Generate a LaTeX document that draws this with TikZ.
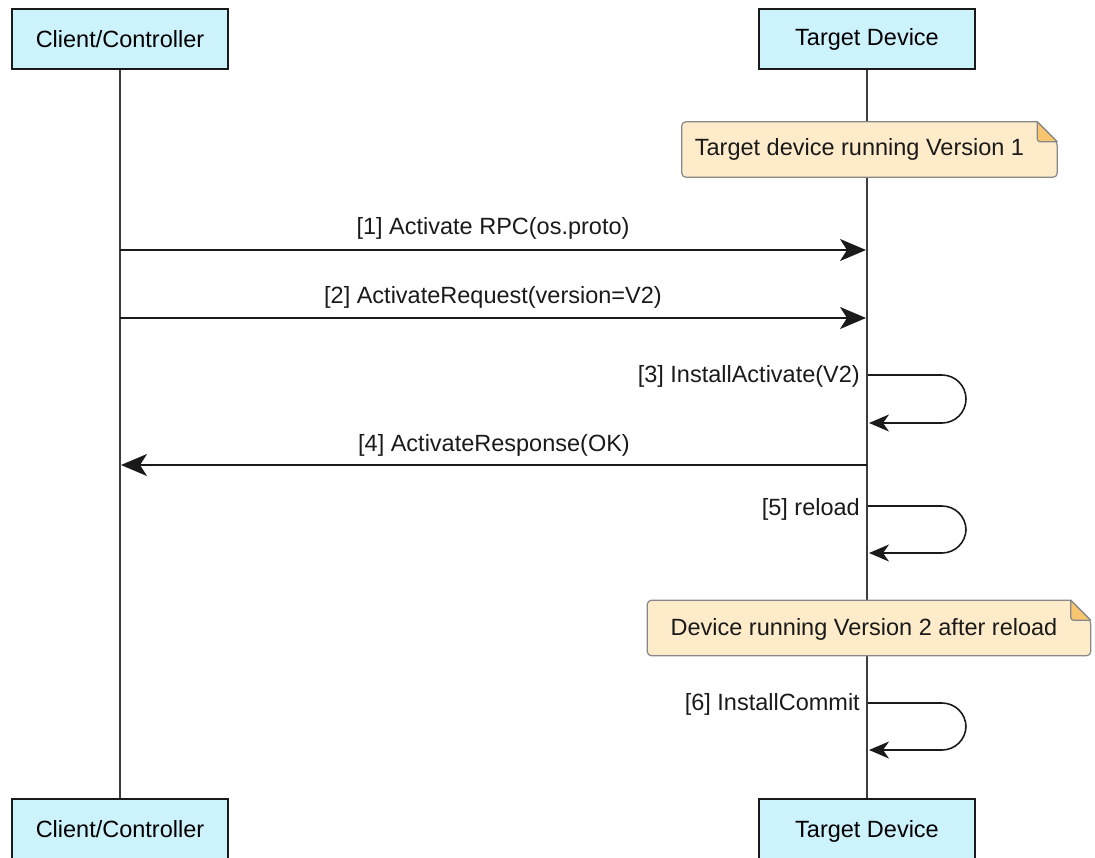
\documentclass[tikz,border=0pt]{standalone}
\usepackage{fontspec}
\setmainfont{Liberation Sans}
\usetikzlibrary{arrows.meta,calc}
\definecolor{boxfill}{HTML}{CCF2FC}
\definecolor{notefill}{HTML}{FDEBC9}
\definecolor{foldfill}{HTML}{F6C56E}
\definecolor{noteline}{HTML}{888888}
\definecolor{ink}{HTML}{1A1A1A}
\tikzset{
  actor/.style={draw=ink, line width=1.5pt, fill=boxfill, minimum width=216pt, minimum height=60pt, inner sep=0pt, font=\fontsize{23.5}{28}\selectfont},
  lifeline/.style={draw=ink!85, line width=1.5pt},
  msg/.style={draw=ink, line width=1.6pt, -{Stealth[length=26pt, width=22pt, inset=7pt]}},
  selfmsg/.style={draw=ink, line width=1.6pt, rounded corners=24pt, -{Stealth[length=20pt, width=17pt, inset=6pt]}},
  lbl/.style={font=\fontsize{23.5}{28}\selectfont, inner sep=0pt, text=ink},
  notebox/.style={minimum height=55pt, inner sep=0pt, font=\fontsize{23.5}{28}\selectfont, text=ink},
  noteborder/.style={draw=noteline, line width=1.2pt, fill=notefill},
  fold/.style={draw=noteline, line width=1.2pt, fill=foldfill, line join=round},
}
\begin{document}
\begin{tikzpicture}[x=1pt, y=-1pt]
\useasboundingbox (0,0) rectangle (1095,857);
% actors
\node[actor] (cTop) at (120,39) {Client/Controller};
\node[actor] (tTop) at (867,39) {Target Device};
\node[actor, minimum height=64pt] (cBot) at (120,831) {\raisebox{4pt}{Client/Controller}};
\node[actor, minimum height=64pt] (tBot) at (867,831) {\raisebox{4pt}{Target Device}};
% lifelines
\draw[lifeline] (cTop.south) -- (cBot.north);
\draw[lifeline] (tTop.south) -- (tBot.north);
% note 1
\node[notebox, minimum width=375pt] (n1) at (869.5,149.5) {};
\draw[noteborder, rounded corners=4pt] ($(n1.north east)+(-20,0)$) -- (n1.north west) -- (n1.south west) -- (n1.south east) -- ($(n1.north east)+(0,20)$) [sharp corners] -- cycle;
\draw[fold] ($(n1.north east)+(-20,0)$) [rounded corners=3pt] -- ($(n1.north east)+(-20,20)$) [sharp corners] -- ($(n1.north east)+(0,20)$) -- cycle;
\node[lbl] (n1t) at ($(n1.center)+(-10,0)$) {Target device running Version 1};
% messages 1,2
\coordinate (c1) at (120,250); \coordinate (t1) at (866,250);
\draw[msg] (c1) -- node[lbl, above=10pt] (m1) {[1] Activate RPC(os.proto)} (t1);
\coordinate (c2) at (120,318); \coordinate (t2) at (866,318);
\draw[msg] (c2) -- node[lbl, above=9pt] (m2) {[2] ActivateRequest(version=V2)} (t2);
% self 3
\coordinate (s3a) at (868,375); \coordinate (s3b) at (869,423);
\draw[selfmsg] (s3a) -- ++(98,0) -- ++(0,48) -- (s3b);
\node[lbl, anchor=east] (m3) at (860,376) {[3] InstallActivate(V2)};
% message 4
\coordinate (t4) at (867,465); \coordinate (c4) at (121,465);
\draw[msg] (t4) -- node[lbl, above=8pt] (m4) {[4] ActivateResponse(OK)} (c4);
% self 5
\coordinate (s5a) at (868,506); \coordinate (s5b) at (869,553);
\draw[selfmsg] (s5a) -- ++(98,0) -- ++(0,47) -- (s5b);
\node[lbl, anchor=east] (m5) at (860,509) {[5] reload};
% note 2
\node[notebox, minimum width=443pt] (n2) at (869,628) {};
\draw[noteborder, rounded corners=4pt] ($(n2.north east)+(-20,0)$) -- (n2.north west) -- (n2.south west) -- (n2.south east) -- ($(n2.north east)+(0,20)$) [sharp corners] -- cycle;
\draw[fold] ($(n2.north east)+(-20,0)$) [rounded corners=3pt] -- ($(n2.north east)+(-20,20)$) [sharp corners] -- ($(n2.north east)+(0,20)$) -- cycle;
\node[lbl] (n2t) at ($(n2.center)+(-5,1)$) {Device running Version 2 after reload};
% self 6
\coordinate (s6a) at (868,703); \coordinate (s6b) at (869,750);
\draw[selfmsg] (s6a) -- ++(98,0) -- ++(0,47) -- (s6b);
\node[lbl, anchor=east] (m6) at (860,704) {[6] InstallCommit};
\end{tikzpicture}
\end{document}
